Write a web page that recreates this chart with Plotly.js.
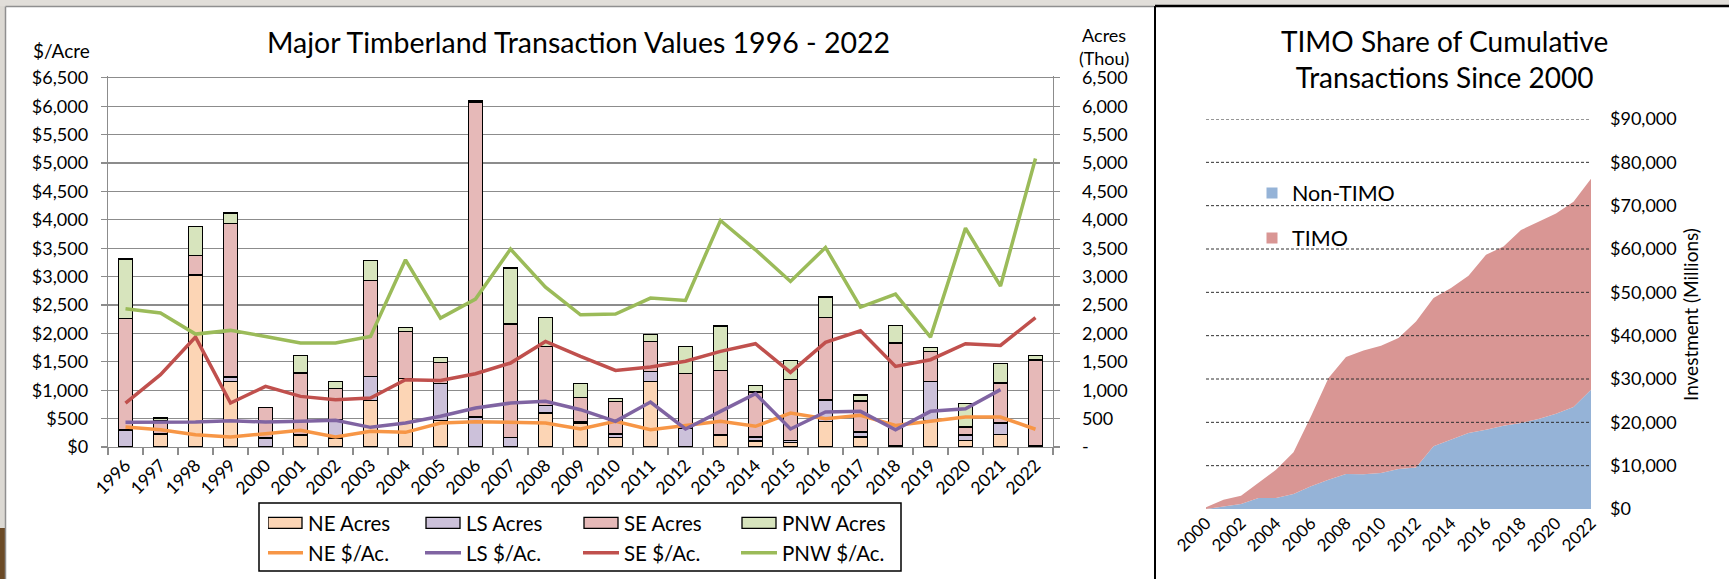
<!DOCTYPE html>
<html><head><meta charset="utf-8">
<script src="https://cdn.plot.ly/plotly-3.0.1.min.js"></script>
<style>html,body{margin:0;padding:0;background:#fff;overflow:hidden}#chart{width:1729px;height:579px}</style>
</head><body><div id="chart"></div>
<script>
// ---------- Left chart data ----------
const years = ['1996','1997','1998','1999','2000','2001','2002','2003','2004','2005','2006','2007','2008','2009','2010','2011','2012','2013','2014','2015','2016','2017','2018','2019','2020','2021','2022'];
const neAcres  = [0,230,3030,1155,0,200,160,820,1200,465,0,0,600,420,170,1155,0,200,105,80,450,175,0,470,120,225,30];
const lsAcres  = [300,0,0,75,160,15,320,425,0,650,530,170,135,30,60,175,330,10,70,35,380,90,25,685,90,195,0];
const seAcres  = [1965,240,340,2700,530,1090,545,1690,835,375,5530,1995,1040,425,565,530,970,1135,795,1070,1455,545,1805,530,140,705,1500];
const pnwAcres = [1045,40,510,190,0,310,130,345,70,90,30,985,510,245,55,120,470,785,115,340,355,105,310,70,410,350,80];
const nePrice  = [352,305,217,176,235,293,176,276,258,422,446,434,422,317,452,305,375,452,364,598,498,557,380,452,528,528,312];
const lsPrice  = [434,440,440,463,440,452,469,346,422,540,686,774,804,657,452,792,317,628,938,317,616,628,305,628,674,1010,null];
const sePrice  = [774,1273,1935,774,1067,891,833,862,1185,1173,1290,1478,1859,1595,1349,1408,1510,1683,1818,1314,1842,2047,1419,1537,1818,1789,2276];
const pnwPrice = [2434,2358,1988,2053,1947,1830,1830,1947,3296,2270,2604,3484,2815,2328,2340,2622,2581,3988,3472,2915,3513,2463,2692,1935,3853,2835,5080];
const leftTicks = [0,500,1000,1500,2000,2500,3000,3500,4000,4500,5000,5500,6000,6500];

// ---------- Right chart data ----------
const areaYears = [2000,2001,2002,2003,2004,2005,2006,2007,2008,2009,2010,2011,2012,2013,2014,2015,2016,2017,2018,2019,2020,2021,2022];
const nonTimo = [0,600,1150,2540,2540,3460,5230,6770,8070,8000,8300,9230,9600,14460,16000,17530,18300,19230,19840,20760,22000,23530,27530];
const timo    = [380,1550,1930,3460,6530,9610,16150,23450,27000,28600,29380,30220,33690,34220,34990,36270,40350,41330,44540,45540,46200,47370,48710];
const rightTicks = [0,10000,20000,30000,40000,50000,60000,70000,80000,90000];

// ---------- geometry helpers ----------
const W = 1729, H = 579;
const px = x => x / W;
const py = y => 1 - y / H;
const FONT = 'Lato, "Open Sans", sans-serif';
const GRID = '#8C8C8C';
const fmt = v => v.toLocaleString('en-US');

const barColors = {ne:'#FCD5B5', ls:'#CCC1DA', se:'#E6B9B8', pnw:'#D7E4BD'};
const lineColors = {ne:'#F79646', ls:'#8064A2', se:'#C0504D', pnw:'#9BBB59'};

function bar(name, y, color) {
  return {type:'bar', name, x: years, y, xaxis:'x', yaxis:'y', width:0.4,
    marker:{color, line:{color:'#000', width:1.3}}, legend:'legend', hoverinfo:'skip'};
}
function line(name, y, color) {
  return {type:'scatter', mode:'lines', name, x: years, y, xaxis:'x', yaxis:'y2',
    line:{color, width:3.5}, legend:'legend2', connectgaps:false, hoverinfo:'skip'};
}

const traces = [
  bar('NE Acres', neAcres, barColors.ne),
  bar('LS Acres', lsAcres, barColors.ls),
  bar('SE Acres', seAcres, barColors.se),
  bar('PNW Acres', pnwAcres, barColors.pnw),
  line('NE $/Ac.', nePrice, lineColors.ne),
  line('LS $/Ac.', lsPrice, lineColors.ls),
  line('SE $/Ac.', sePrice, lineColors.se),
  line('PNW $/Ac.', pnwPrice, lineColors.pnw),
  {type:'scatter', mode:'lines', name:'Non-TIMO', x: areaYears, y: nonTimo, stackgroup:'cum',
   fillcolor:'#95B3D7', line:{width:0, color:'#95B3D7'}, xaxis:'x2', yaxis:'y3', showlegend:false, hoverinfo:'skip'},
  {type:'scatter', mode:'lines', name:'TIMO', x: areaYears, y: timo, stackgroup:'cum',
   fillcolor:'#D99694', line:{width:0, color:'#D99694'}, xaxis:'x2', yaxis:'y3', showlegend:false, hoverinfo:'skip'},
  {type:'scatter', mode:'markers', name:'Non-TIMO', x:[null], y:[null], xaxis:'x2', yaxis:'y3',
   marker:{symbol:'square', size:11, color:'#95B3D7'}, legend:'legend3'},
  {type:'scatter', mode:'markers', name:'TIMO', x:[null], y:[null], xaxis:'x2', yaxis:'y3',
   marker:{symbol:'square', size:11, color:'#D99694'}, legend:'legend4'}
];

const yTopPx = 447 - 6530 * (369.2 / 6500);

const shapes = [
  {type:'rect', xref:'paper', yref:'paper', x0:0, x1:1, y0:py(6), y1:1, fillcolor:'#E1DED9', line:{width:0}, layer:'below'},
  {type:'rect', xref:'paper', yref:'paper', x0:0, x1:px(5), y0:py(528), y1:py(6), fillcolor:'#DCD9D3', line:{width:0}, layer:'below'},
  {type:'rect', xref:'paper', yref:'paper', x0:0, x1:px(5), y0:0, y1:py(528), fillcolor:'#6B4A26', line:{width:0}, layer:'below'},
  {type:'line', xref:'paper', yref:'paper', x0:px(5.5), x1:px(5.5), y0:0, y1:py(6.5), line:{color:'#8F8F8F', width:1.5}},
  {type:'line', xref:'paper', yref:'paper', x0:px(5.5), x1:px(1154), y0:py(6.5), y1:py(6.5), line:{color:'#8F8F8F', width:1.5}},
  {type:'line', xref:'paper', yref:'paper', x0:px(1155), x1:px(1155), y0:0, y1:py(6), line:{color:'#000', width:2}},
  {type:'line', xref:'paper', yref:'paper', x0:px(1155), x1:1, y0:py(6), y1:py(6), line:{color:'#000', width:2.5}},
  {type:'rect', xref:'paper', yref:'paper', x0:px(259), x1:px(901), y0:py(571), y1:py(503), line:{color:'#000', width:1.5}, fillcolor:'rgba(0,0,0,0)'}
];
rightTicks.filter(v => v > 0).forEach(v => shapes.push({
  type:'line', xref:'x2 domain', yref:'y3', x0:0, x1:1, y0:v, y1:v,
  line:{color:'#303030', width:1, dash:'3px,2px'}, layer:'above'
}));

const annotations = [
  {text:'Major Timberland Transaction Values 1996 - 2022', xref:'paper', yref:'paper', x:px(578), y:py(42),
   xanchor:'center', yanchor:'middle', showarrow:false, font:{family:FONT, size:28.5, color:'#000'}},
  {text:'$/Acre', xref:'paper', yref:'paper', x:px(31), y:py(50), xanchor:'left', yanchor:'middle',
   showarrow:false, font:{family:FONT, size:19, color:'#000'}},
  {text:'Acres<br>(Thou)', xref:'paper', yref:'paper', x:px(1104), y:py(47), xanchor:'center', yanchor:'middle',
   showarrow:false, font:{family:FONT, size:18, color:'#000'}},
  {text:'TIMO Share of Cumulative<br>Transactions Since 2000', xref:'paper', yref:'paper', x:px(1444), y:py(58.5),
   xanchor:'center', yanchor:'middle', showarrow:false, font:{family:FONT, size:28, color:'#000'}},
  {text:'Investment (Millions)', xref:'paper', yref:'paper', x:px(1690), y:py(315), xanchor:'center', yanchor:'middle',
   textangle:-90, showarrow:false, font:{family:FONT, size:19, color:'#000'}}
];

const legendBase = {orientation:'h', xanchor:'left', yanchor:'middle', bgcolor:'rgba(0,0,0,0)', borderwidth:0,
  font:{family:FONT, size:20.5, color:'#000'}, traceorder:'normal', entrywidth:113};

const layout = {
  width: W, height: H,
  margin:{l:0, r:0, t:0, b:0, pad:0},
  paper_bgcolor:'#fff', plot_bgcolor:'rgba(0,0,0,0)',
  font:{family:FONT, color:'#000'},
  barmode:'stack',
  hovermode:false,
  showlegend:true,
  xaxis:{type:'category', domain:[px(108), px(1053)], anchor:'y', tickson:'boundaries', ticks:'outside', ticklen:7,
    tickcolor:GRID, tickwidth:1.3, showline:true, linecolor:GRID, linewidth:1.3, showgrid:false, tickangle:-45,
    tickfont:{family:FONT, size:17.5, color:'#000'}, automargin:false, fixedrange:true},
  yaxis:{domain:[py(447), py(yTopPx)], range:[0,6530], anchor:'x', tickvals:leftTicks,
    ticktext:leftTicks.map(v => '$' + fmt(v)), showgrid:true, gridcolor:GRID, gridwidth:1.3, zeroline:false,
    showline:true, linecolor:GRID, linewidth:1.3, ticks:'outside', ticklen:6, tickcolor:GRID, tickwidth:1.3,
    tickfont:{family:FONT, size:18, color:'#000'}, ticklabelstandoff:9, automargin:false, fixedrange:true},
  yaxis2:{overlaying:'y', side:'right', anchor:'x', range:[0,6530], tickvals:leftTicks,
    ticktext:leftTicks.map(v => v === 0 ? '-' : fmt(v)), showgrid:false, zeroline:false, showline:true,
    linecolor:GRID, linewidth:1.3, ticks:'outside', ticklen:6, tickcolor:GRID, tickwidth:1.3,
    tickfont:{family:FONT, size:18, color:'#000'}, ticklabelstandoff:18, automargin:false, fixedrange:true},
  xaxis2:{domain:[px(1206), px(1591)], anchor:'y3', range:[2000,2022], tick0:2000, dtick:2, tickangle:-45,
    ticks:'', showline:false, showgrid:false, zeroline:false, tickformat:'d',
    tickfont:{family:FONT, size:17, color:'#000'}, automargin:false, fixedrange:true},
  yaxis3:{domain:[py(509), py(119)], anchor:'x2', side:'right', range:[0,90000], tickvals:rightTicks,
    ticktext:rightTicks.map(v => '$' + fmt(v)), showgrid:false, zeroline:false, showline:false, ticks:'',
    tickfont:{family:FONT, size:18, color:'#000'}, ticklabelstandoff:18, automargin:false, fixedrange:true},
  legend: Object.assign({}, legendBase, {x:px(268), y:py(523)}),
  legend2: Object.assign({}, legendBase, {x:px(268), y:py(553)}),
  legend3: Object.assign({}, legendBase, {x:px(1252), y:py(193), font:{family:FONT, size:21.5, color:'#000'}}),
  legend4: Object.assign({}, legendBase, {x:px(1252), y:py(238), font:{family:FONT, size:21.5, color:'#000'}}),
  shapes, annotations
};

// widen legend swatches to the wide-rectangle / long-line look of the original
function widenSwatches() {
  const root = document.getElementById('chart');
  root.querySelectorAll('g.legend g.legendpoints path').forEach(p => {
    p.setAttribute('d', 'M14,5.5H-20V-5.5H14Z');
  });
  root.querySelectorAll('g.legend2 g.legendlines path').forEach(p => p.setAttribute('d', 'M-1,0h36'));
}

Plotly.newPlot('chart', traces, layout, {displayModeBar:false, staticPlot:true}).then(gd => {
  widenSwatches();
  gd.on('plotly_afterplot', widenSwatches);
  setTimeout(widenSwatches, 50);
  setTimeout(widenSwatches, 300);
});
</script>
</body></html>
